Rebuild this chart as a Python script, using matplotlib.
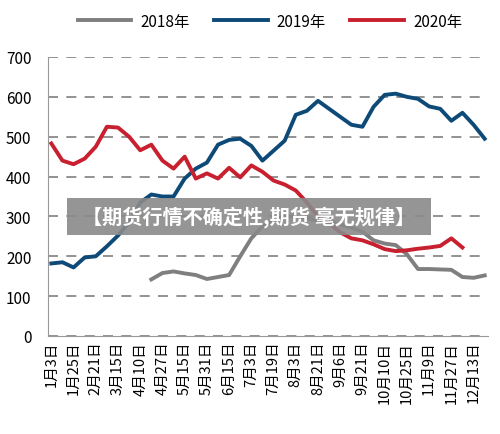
import numpy as np
import matplotlib.pyplot as plt
from matplotlib.patches import Rectangle

plt.rcParams['font.family'] = ['Noto Sans CJK SC', 'DejaVu Sans']

tick_labels = ['1月3日', '1月25日', '2月21日', '3月15日', '4月10日', '4月27日', '5月15日',
               '5月31日', '6月15日', '7月3日', '7月19日', '8月3日', '8月21日', '9月6日',
               '9月21日', '10月10日', '10月25日', '11月9日', '11月27日', '12月13日']

y2019 = [182, 185, 172, 197, 200, 225, 252, 285, 335, 355, 350, 350, 395, 420, 435, 480,
         492, 495, 477, 440, 465, 490, 555, 565, 590, 570, 550, 530, 525, 575, 605, 608,
         600, 595, 576, 570, 540, 560, 530, 495]
y2020 = [483, 440, 431, 445, 475, 525, 523, 500, 466, 480, 440, 420, 450, 395, 408, 395,
         422, 398, 428, 412, 390, 380, 365, 335, 300, 283, 260, 245, 240, 230, 218, 213,
         215, 219, 222, 226, 245, 222]
y2018 = [142, 158, 162, 157, 153, 143, 148, 153, 200, 245, 275, 290, 300, 300, 295, 290,
         285, 280, 272, 262, 240, 232, 228, 205, 168, 168, 167, 166, 148, 146, 152]

fig = plt.figure(figsize=(5, 4.35), dpi=100)
ax = fig.add_axes([48 / 500, 98 / 435, 440 / 500, 279 / 435])

ax.plot(np.arange(9, 9 + len(y2018)), y2018, color='#7f7f7f', lw=2.8, label='2018年')
ax.plot(np.arange(len(y2019)), y2019, color='#0e4a78', lw=2.8, label='2019年')
ax.plot(np.arange(len(y2020)), y2020, color='#c8202f', lw=2.8, label='2020年')

ax.set_ylim(0, 700)
ax.set_xlim(-0.3, 39.3)
ax.set_yticks(range(0, 701, 100))
ax.set_xticks(np.arange(0, 40, 2))
ax.set_xticklabels(tick_labels, rotation=90, fontsize=10.5)
ax.tick_params(axis='y', labelsize=11, length=0, pad=12)
ax.tick_params(axis='x', length=0)
ax.grid(axis='y', color='#7f7f7f', ls=(0, (6, 5)), lw=1.2)
for s in ['top', 'right']:
    ax.spines[s].set_visible(False)
ax.spines['left'].set_color('#999999')
ax.spines['bottom'].set_color('#999999')

fig.legend(loc='upper center', bbox_to_anchor=(0.54, 1.0), ncol=3, frameon=False,
           fontsize=11, handlelength=3.5, columnspacing=1.6, handletextpad=0.6)

fig.patches.append(Rectangle((67 / 500, (435 - 236) / 435), 364 / 500, 37 / 435,
                             transform=fig.transFigure, fc='#8a8a8a', ec='none', alpha=0.9))
fig.text(249 / 500, (435 - 217) / 435, '【期货行情不确定性,期货 毫无规律】',
         ha='center', va='center', color='white', fontsize=14.5, fontweight='bold')

fig.savefig('out.png', dpi=100)
